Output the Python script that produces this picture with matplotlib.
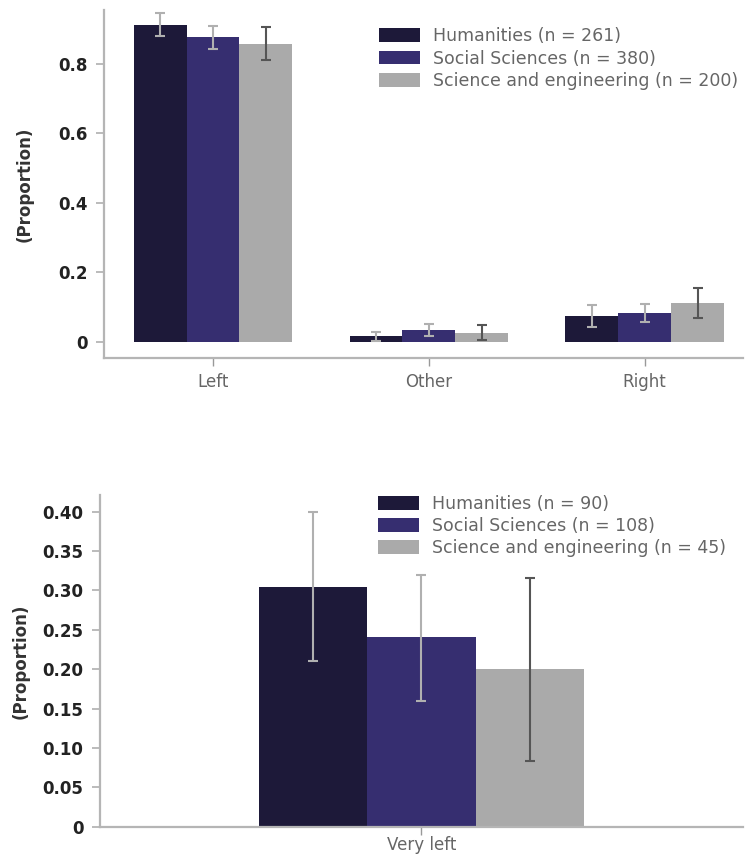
import matplotlib
matplotlib.use('Agg')
import matplotlib.pyplot as plt
import numpy as np

plt.rcParams['font.family'] = ['DejaVu Sans']

# Data
groups = ["Humanities", "Social Sciences", "Science and engineering"]
colors = ['#1d1939', '#362e70', '#aaaaaa']
err_colors = ['#b0b0b0', '#b0b0b0', '#555555']

# top chart
top_cats = ["Left", "Other", "Right"]
top_n = [261, 380, 200]
top_vals = [[0.912, 0.017, 0.075],
            [0.878, 0.035, 0.083],
            [0.858, 0.027, 0.112]]
top_lo = [[0.880, 0.003, 0.044],
          [0.844, 0.018, 0.057],
          [0.811, 0.006, 0.070]]
top_hi = [[0.945, 0.030, 0.106],
          [0.910, 0.052, 0.110],
          [0.905, 0.048, 0.156]]

# bottom chart
bot_cats = ["Very left"]
bot_n = [90, 108, 45]
bot_vals = [[0.304], [0.241], [0.200]]
bot_lo = [[0.210], [0.160], [0.084]]
bot_hi = [[0.400], [0.320], [0.316]]

fig = plt.figure(figsize=(7.47, 8.56), dpi=100)
fig.patch.set_facecolor('white')

ax1 = fig.add_axes([0.1392, 0.5818, 0.8554, 0.4065])
ax2 = fig.add_axes([0.1339, 0.0342, 0.8607, 0.3875])


def draw(ax, cats, vals, lo, hi, ns, width, cap, xpad):
    x = np.arange(len(cats))
    for i in range(3):
        v = np.array(vals[i])
        yerr = [v - np.array(lo[i]), np.array(hi[i]) - v]
        pos = x + (i - 1) * width
        ax.bar(pos, v, width, color=colors[i], linewidth=0, zorder=2,
               label=f"{groups[i]} (n = {ns[i]})")
        ax.errorbar(pos, v, yerr=yerr, fmt='none', ecolor=err_colors[i],
                    elinewidth=1.5, capsize=cap, capthick=1.5, zorder=3)
    ax.set_xticks(x)
    ax.set_xticklabels(cats)
    for s in ['top', 'right']:
        ax.spines[s].set_visible(False)
    for s in ['left', 'bottom']:
        ax.spines[s].set_color('#b5b5b5')
        ax.spines[s].set_linewidth(1.6)
    ax.tick_params(axis='y', colors='#b5b5b5', length=6, width=1.3, labelcolor='#222222',
                   labelsize=12, pad=6)
    ax.tick_params(axis='x', colors='#999999', length=6, width=1, labelcolor='#666666',
                   labelsize=12, pad=xpad)
    ax.set_ylabel("(Proportion)", fontsize=12, fontweight='bold', color='#333333')
    leg = ax.legend(loc='upper left', frameon=False,
                    fontsize=12.5, handlelength=2.4, handleheight=0.85, handletextpad=0.75,
                    labelspacing=0.24, borderpad=0, borderaxespad=0)
    for t in leg.get_texts():
        t.set_color('#666666')
    return leg


leg1 = draw(ax1, top_cats, top_vals, top_lo, top_hi, top_n, 0.245, 3.6, 5)
ax1.set_xlim(-0.505, 2.455)
ax1.set_ylim(-0.046, 0.955)
ax1.set_yticks([0, 0.2, 0.4, 0.6, 0.8])
ax1.set_yticklabels(['0', '0.2', '0.4', '0.6', '0.8'], fontweight='bold')
ax1.yaxis.set_label_coords(-0.11, 0.5)
leg1.set_bbox_to_anchor((0.43, 0.95), transform=ax1.transAxes)

leg2 = draw(ax2, bot_cats, bot_vals, bot_lo, bot_hi, bot_n, 0.336, 3.6, 1)
ax2.set_xlim(-1.0, 1.0)
ax2.set_ylim(0, 0.421)
bt = [0, 0.05, 0.10, 0.15, 0.20, 0.25, 0.30, 0.35, 0.40]
ax2.set_yticks(bt)
ax2.set_yticklabels(['0'] + [f"{t:.2f}" for t in bt[1:]], fontweight='bold')
ax2.yaxis.set_label_coords(-0.11, 0.5)
leg2.set_bbox_to_anchor((0.432, 1.0), transform=ax2.transAxes)

plt.savefig('out.png', dpi=100)
plt.close()
